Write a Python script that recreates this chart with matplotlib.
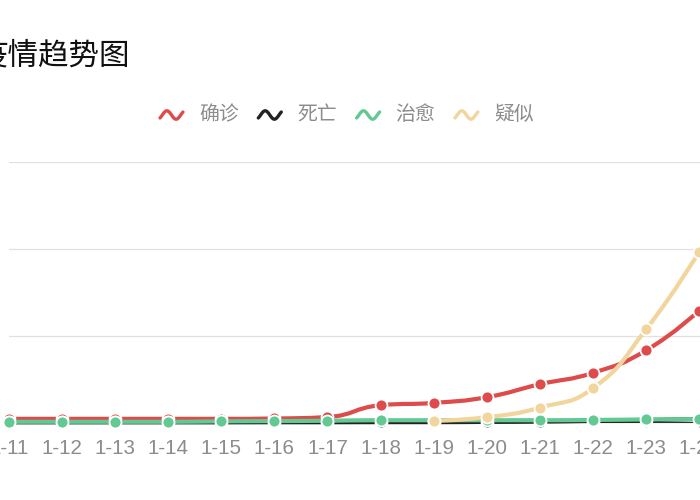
import numpy as np
import matplotlib
matplotlib.use('Agg')
import matplotlib.pyplot as plt
from matplotlib.path import Path
from matplotlib.patches import PathPatch
from matplotlib.lines import Line2D

plt.rcParams['font.family'] = ['Noto Sans CJK SC', 'DejaVu Sans']

# ---- data ----
dates = ['1-11', '1-12', '1-13', '1-14', '1-15', '1-16', '1-17',
         '1-18', '1-19', '1-20', '1-21', '1-22', '1-23', '1-24']
confirmed = [41, 41, 41, 41, 41, 45, 62, 198, 225, 291, 440, 571, 830, 1287]
deaths = [1, 1, 1, 1, 1, 2, 2, 3, 3, 6, 9, 17, 25, 41]
recovered = [7, 7, 7, 7, 12, 15, 19, 25, 25, 25, 25, 28, 34, 38]
suspected = [None, None, None, None, None, None, None, None,
             18, 60, 170, 393, 1072, 1965]
series_names = ['确诊', '死亡', '治愈', '疑似']
series_values = [confirmed, deaths, recovered, suspected]
colors = ['#dd4b4b', '#222222', '#62c993', '#f1d59c']
title_text = '疫情趋势图'
y_ticks = [0, 1000, 2000, 3000]

W, H = 700, 500
fig = plt.figure(figsize=(W / 100, H / 100), dpi=100)

def fx(px):
    return px / W

def fy(py):
    return 1 - py / H

# plot area (the screenshot is a crop: the grid continues beyond the edges)
x0px, step = 9.0, 53.08
y0px, ypx_per = 422.4, 0.0867
ncat_visible = 13.6
ax = fig.add_axes([fx(x0px), fy(y0px), ncat_visible * step / W, 3000 * ypx_per / H])
ax.set_xlim(0, ncat_visible)
ax.set_ylim(0, 3000)

ax.set_yticks(y_ticks)
ax.tick_params(axis='y', length=0, labelleft=False)
ax.yaxis.grid(True, color='#e0e0e0', linewidth=0.9)
ax.set_axisbelow(True)
for s in ['top', 'right', 'left']:
    ax.spines[s].set_visible(False)
ax.spines['bottom'].set_color('#333333')
ax.spines['bottom'].set_linewidth(0.8)

xs_all = np.arange(len(dates))
ax.set_xticks(xs_all)
ax.set_xticklabels(dates, fontfamily=['Liberation Sans', 'DejaVu Sans'])
ax.tick_params(axis='x', length=3.6, width=0.8, color='#999999',
               labelsize=14.8, labelcolor='#8c8c8c', pad=8)


def echarts_smooth_path(xs, ys, smooth=0.5):
    pts = ax.transData.transform(np.column_stack([xs, ys]))
    n = len(pts)
    verts = [tuple(pts[0])]
    codes = [Path.MOVETO]
    cpx0, cpy0 = pts[0]
    prevX, prevY = pts[0]
    for i in range(1, n):
        x, y = pts[i]
        if i == n - 1:
            cpx1, cpy1 = x, y
            ncx0, ncy0 = x, y
        else:
            nextX, nextY = pts[i + 1]
            vx = nextX - prevX
            vy = nextY - prevY
            dx0, dy0 = x - prevX, y - prevY
            dx1, dy1 = nextX - x, nextY - y
            lp = np.hypot(dx0, dy0)
            ln = np.hypot(dx1, dy1)
            r = ln / (ln + lp)
            ncx0 = x + vx * smooth * r
            ncy0 = y + vy * smooth * r
            ncx0 = min(ncx0, max(nextX, x)); ncy0 = min(ncy0, max(nextY, y))
            ncx0 = max(ncx0, min(nextX, x)); ncy0 = max(ncy0, min(nextY, y))
            vx, vy = ncx0 - x, ncy0 - y
            cpx1 = x - vx * lp / ln
            cpy1 = y - vy * lp / ln
            cpx1 = min(cpx1, max(prevX, x)); cpy1 = min(cpy1, max(prevY, y))
            cpx1 = max(cpx1, min(prevX, x)); cpy1 = max(cpy1, min(prevY, y))
            vx, vy = x - cpx1, y - cpy1
            ncx0 = x + vx * ln / lp
            ncy0 = y + vy * ln / lp
        verts += [(cpx0, cpy0), (cpx1, cpy1), (x, y)]
        codes += [Path.CURVE4] * 3
        cpx0, cpy0 = ncx0, ncy0
        prevX, prevY = x, y
    path = Path(verts, codes)
    return ax.transData.inverted().transform_path(path)


for k, (vals, col) in enumerate(zip(series_values, colors)):
    xs = np.array([i for i, v in enumerate(vals) if v is not None], dtype=float)
    ys = np.array([v for v in vals if v is not None], dtype=float)
    z = 3 + 2 * k
    path = echarts_smooth_path(xs, ys)
    patch = PathPatch(path, facecolor='none', edgecolor=col, linewidth=3.0,
                      capstyle='round', joinstyle='round', zorder=z, clip_on=False)
    ax.add_patch(patch)
    ax.plot(xs, ys, linestyle='none', marker='o', markersize=8.6,
            markerfacecolor=col, markeredgecolor='white', markeredgewidth=1.3,
            zorder=z + 1, clip_on=False)

# title (partly cut off at the left edge, as in the cropped reference)
fig.text(fx(-23), fy(56), title_text, fontsize=22, color='#111111',
         ha='left', va='center')

# legend
leg_y = 115
for i, (name, col) in enumerate(zip(series_names, colors)):
    ix = 160 + i * 98.3
    t = np.linspace(-0.25 * np.pi, 2.25 * np.pi, 50)
    wx = ix + (t + 0.25 * np.pi) / (2.5 * np.pi) * 23
    wy = leg_y - 4.2 * np.sin(t)
    fig.add_artist(Line2D(fx(wx), fy(wy), color=col, linewidth=2.4,
                          solid_capstyle='round', transform=fig.transFigure))
    fig.text(fx(ix + 39), fy(leg_y), name, fontsize=14.3, color='#8c8c8c',
             ha='left', va='center')

fig.savefig('out.png', dpi=100)
